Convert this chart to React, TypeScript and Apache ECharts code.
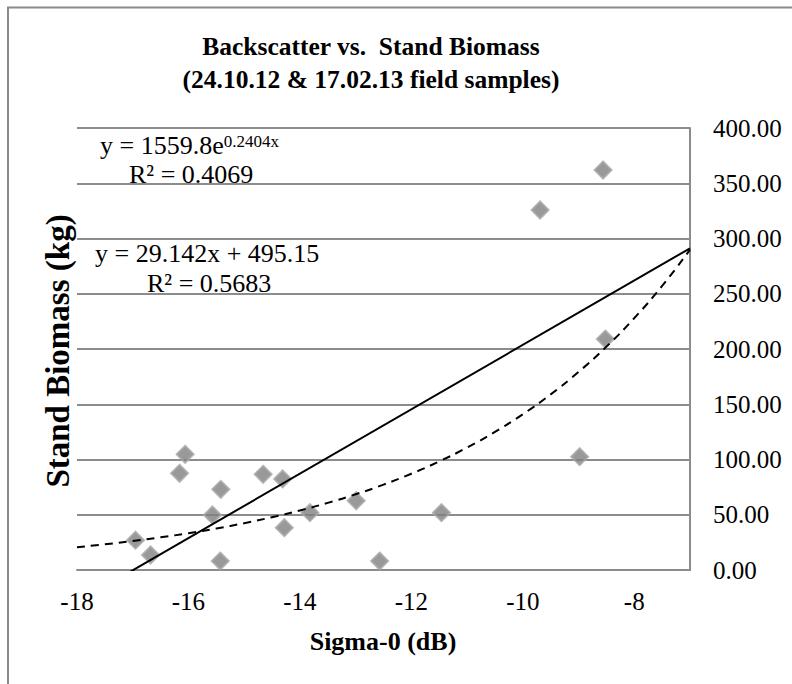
import React, { useEffect, useRef } from "react";
import * as echarts from "echarts";

// Scatter data
const sigma0 = [-16.95, -16.68, -16.06, -16.16, -15.42, -15.57, -15.43, -14.66, -14.31, -14.28, -13.82, -12.99, -12.57, -11.46, -8.98, -9.69, -8.56, -8.52];
const biomass = [27, 13.6, 104.7, 87.5, 73, 49.8, 8.1, 86.6, 82.4, 38.3, 51.9, 62.7, 8.1, 51.9, 102.6, 325.8, 362, 209];

// Trendline equations printed on the chart
const linearCoef = [29.142, 495.15]; // y = a x + b
const expCoef = [1559.8, 0.2404]; // y = A e^(k x)
const trendX = [-18, -17.5, -17, -16.5, -16, -15.5, -15, -14.5, -14, -13.5, -13, -12.5, -12, -11.5, -11, -10.5, -10, -9.5, -9, -8.5, -8, -7.5, -7];

const yTicks = [0, 50, 100, 150, 200, 250, 300, 350, 400];
const xTicks = [-18, -16, -14, -12, -10, -8];

const titleText = "Backscatter vs.  Stand Biomass\n(24.10.12 & 17.02.13 field samples)";
const xName = "Sigma-0 (dB)";
const yName = "Stand Biomass (kg)";

const FONT = "'Liberation Serif', 'Times New Roman', serif";

export default function App() {
  const ref = useRef<HTMLDivElement>(null);
  useEffect(() => {
    if (!ref.current) return;
    const chart = echarts.init(ref.current, null, { renderer: "svg" });
    const scatter = sigma0.map((x, i) => [x, biomass[i]]);
    const linLine = [trendX[0], trendX[trendX.length - 1]].map((x) => [x, linearCoef[0] * x + linearCoef[1]]);
    const expLine = trendX.map((x) => [x, expCoef[0] * Math.exp(expCoef[1] * x)]);
    const gridColor = "#8c8c8c";

    chart.setOption({
      animation: false,
      backgroundColor: "#ffffff",
      textStyle: { fontFamily: FONT },
      title: {
        text: titleText,
        left: 366,
        top: 25,
        textAlign: "center",
        textStyle: { fontFamily: FONT, fontWeight: "bold", fontSize: 25.5, lineHeight: 33, color: "#000" },
      },
      grid: { left: 77, right: 102, top: 128, bottom: 114 },
      xAxis: {
        type: "value",
        min: xTicks[0],
        max: -7,
        interval: 2,
        splitLine: { show: false },
        axisTick: { show: false },
        axisLine: { show: true, onZero: false, lineStyle: { color: gridColor, width: 2 } },
        axisLabel: {
          showMaxLabel: false,
          margin: 19,
          fontFamily: FONT,
          fontSize: 25,
          color: "#000",
        },
      },
      yAxis: {
        type: "value",
        position: "right",
        min: yTicks[0],
        max: yTicks[yTicks.length - 1],
        interval: 50,
        splitLine: { show: true, lineStyle: { color: gridColor, width: 2 } },
        axisTick: { show: true, inside: true, length: 7, lineStyle: { color: gridColor, width: 2 } },
        axisLine: { show: true, lineStyle: { color: gridColor, width: 2 } },
        axisLabel: {
          margin: 23,
          fontFamily: FONT,
          fontSize: 25,
          color: "#000",
          formatter: (v: number) => v.toFixed(2),
        },
      },
      series: [
        {
          type: "scatter",
          data: scatter,
          symbol: "diamond",
          symbolSize: 17,
          itemStyle: { color: "#7f7f7f", borderColor: "#a6a6a6", borderWidth: 2 },
          z: 3,
        },
        {
          type: "line",
          data: linLine,
          showSymbol: false,
          symbol: "none",
          clip: true,
          lineStyle: { color: "#000", width: 2 },
          z: 4,
        },
        {
          type: "line",
          data: expLine,
          showSymbol: false,
          symbol: "none",
          smooth: true,
          clip: true,
          lineStyle: { color: "#000", width: 2, type: [8, 6] },
          z: 4,
        },
      ],
      graphic: [
        {
          type: "rect",
          shape: { x: 8, y: 7.5, width: 800, height: 700 },
          style: { fill: "none", stroke: "#8a8a8a", lineWidth: 2 },
          silent: true,
        },
        {
          type: "text",
          x: 383,
          y: 641,
          style: { text: xName, font: `bold 26px ${FONT}`, fill: "#000", align: "center", verticalAlign: "middle" },
        },
        {
          type: "text",
          x: 58,
          y: 351,
          rotation: Math.PI / 2,
          style: { text: yName, font: `bold 33px ${FONT}`, fill: "#000", align: "center", verticalAlign: "middle" },
        },
        {
          type: "text",
          x: 100,
          y: 133,
          style: {
            text: "{a|y = 1559.8e}{s|0.2404x}",
            verticalAlign: "top",
            rich: {
              a: { font: `26px ${FONT}`, fill: "#000", lineHeight: 25, verticalAlign: "bottom" },
              s: { font: `17px ${FONT}`, fill: "#000", lineHeight: 25, verticalAlign: "top" },
            },
          },
        },
        {
          type: "text",
          x: 129,
          y: 174,
          style: { text: "R² = 0.4069", font: `26px ${FONT}`, fill: "#000", verticalAlign: "middle", lineHeight: 24 },
        },
        {
          type: "text",
          x: 95,
          y: 253,
          style: { text: "y = 29.142x + 495.15", font: `26px ${FONT}`, fill: "#000", verticalAlign: "middle", lineHeight: 24 },
        },
        {
          type: "text",
          x: 147,
          y: 283,
          style: { text: "R² = 0.5683", font: `26px ${FONT}`, fill: "#000", verticalAlign: "middle", lineHeight: 24 },
        },
      ],
    });
    return () => chart.dispose();
  }, []);
  return (
    <div
      ref={ref}
      style={{ position: "absolute", left: 0, top: 0, width: 792, height: 684 }}
    />
  );
}
